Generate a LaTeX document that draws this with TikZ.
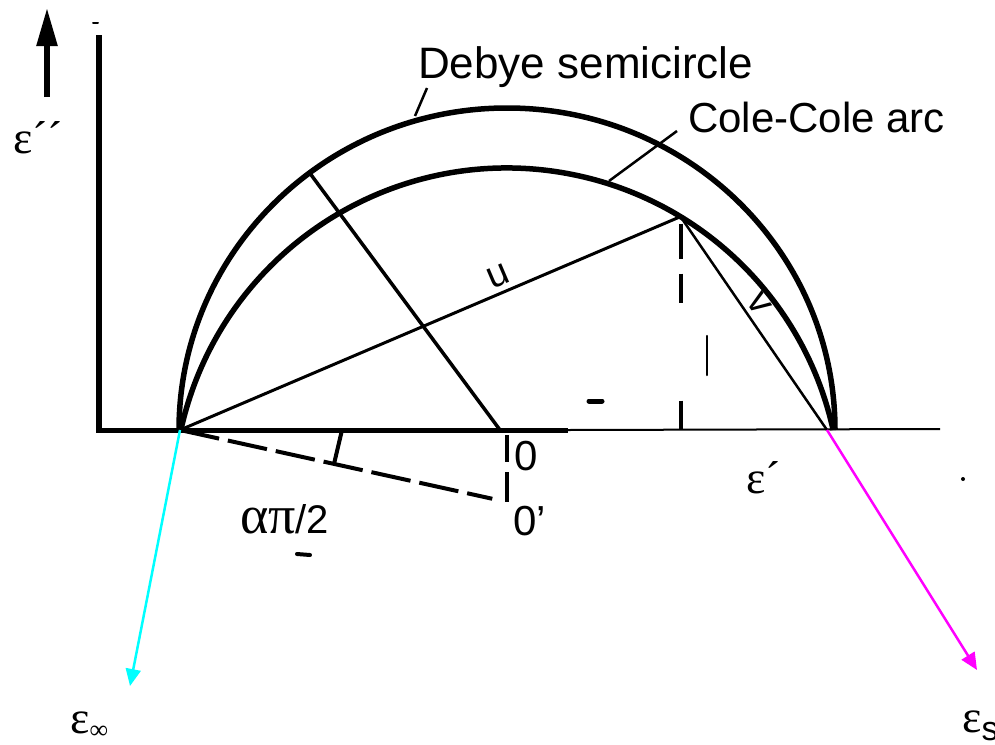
\documentclass[tikz,border=0pt]{standalone}
\usepackage{fontspec}
\setmainfont{Liberation Sans}
\newfontfamily\greekfont{Liberation Serif}
\usepackage{xcolor}
\definecolor{limcyan}{RGB}{0,255,255}
\definecolor{limmagenta}{RGB}{255,0,255}
\usetikzlibrary{arrows.meta, calc}

\begin{document}
\begin{tikzpicture}[
    x=1pt, y=-1pt,
    curve/.style={line width=5.5pt},
    axis/.style={line width=#1},
    axis/.default=5pt,
    guide/.style={line width=#1},
    guide/.default=2.5pt,
    dsh/.style={line width=4pt, dash pattern=#1},
    lbl/.style={font=\fontsize{42}{46}\selectfont, inner sep=0pt, anchor=base west},
    glbl/.style={font=\greekfont\fontsize{46}{50}\selectfont, inner sep=0pt, anchor=base west},
    pointer/.style={-{Triangle[length=17pt,width=15pt]}, line width=2.5pt, draw=#1, fill=#1},
    speck/.style={line width=#1, line cap=round},
]
\useasboundingbox (0,0) rectangle (995,744);

% Axes and the up arrow
\coordinate (ytop) at (99,35);
\coordinate (orig) at (99,430);
\coordinate (xmid) at (568,430);
\coordinate (xend) at (940,429);
\coordinate (arrowBase) at (47,97);
\coordinate (arrowTip) at (47,8);
\draw[axis=6pt] (ytop) -- (orig);
\draw[axis] ([xshift=-3pt]orig) -- (xmid);
\draw[axis=2pt] (xmid) -- (xend);
\draw[-{Triangle[length=38pt,width=20pt]}, line width=5.5pt] (arrowBase) -- (arrowTip);

% Key points
\coordinate (einf) at (180,430);
\coordinate (D) at (507,430);
\coordinate (Op) at (507,502);
\coordinate (O) at (500,430);
\coordinate (vend) at (827,430);
\coordinate (P) at ($(Op)+(301.3:334)$);
\coordinate (Q) at ($(D)+(233:328 and 322)$);

% Debye semicircle and Cole-Cole arc
\draw[curve] ($(D)+(180:328 and 322)$) arc[start angle=180, end angle=360, x radius=328, y radius=322];
\draw[curve] ($(Op)+(192.45:334)$) arc[start angle=192.45, end angle=347.55, radius=334];

% Chords u and v, radius from O
\draw[guide=3pt] (einf) -- node[sloped, above, pos=0.65, inner sep=5pt, font=\fontsize{38}{40}\selectfont] (ulbl) {u} (P);
\draw[guide] (P) -- node[sloped, above, pos=0.45, inner sep=4pt, font=\fontsize{38}{40}\selectfont] (vlbl) {v} (vend);
\draw[guide=3.5pt] (O) -- (Q);
\draw[dsh={on 0pt off 7pt on 35pt off 15pt on 29pt off 98pt on 40pt}] (P) -- (P |- O);

% Tilted centre line and angle marker
\coordinate (dashEnd) at ($(einf)!0.955!(Op)$);
\coordinate (tickTop) at (342,430);
\coordinate (tickBot) at ($(einf)!0.471!(Op)$);
\draw[dsh={on 40pt off 9pt}] (einf) -- (dashEnd);
\draw[guide=4pt] (tickTop) -- (tickBot);
\draw[dsh={on 0pt off 5pt on 27pt off 10pt on 28pt}] (D) -- (Op);

% Labels
\node[lbl, font=\fontsize{44}{48}\selectfont] (debyeLabel) at (418,78) {Debye semicircle};
\node[lbl] (coleLabel) at (688,132) {Cole-Cole arc};
\coordinate (debyeLead) at (427,88);
\coordinate (debyeTip) at (415,116);
\coordinate (coleLead) at (677,131);
\coordinate (coleTip) at (609,181);
\draw[guide] (debyeLead) -- (debyeTip);
\draw[guide] (coleLead) -- (coleTip);

\node[glbl] (epsY) at (13,153) {ε´´};
\node[glbl] (epsX) at (746,493) {ε´};
\node[glbl, font=\greekfont\fontsize{54}{58}\selectfont] (alphaLabel) at (240,533) {απ{\normalfont\fontsize{40}{44}\selectfont /2}};
\node[lbl] (zero) at (514,470) {0};
\node[lbl] (zeroP) at (513,535) {0'};

% Limits
\coordinate (infTip) at (130,686);
\coordinate (sTip) at (977,670);
\draw[pointer=limcyan] (einf) -- (infTip);
\draw[pointer=limmagenta] (vend) -- (sTip);
\node[glbl] (epsInf) at (70,733) {ε\raisebox{-5pt}{\fontsize{26}{28}\selectfont ∞}};
\node[glbl] (epsS) at (962,732) {ε\raisebox{-8pt}{\normalfont\fontsize{34}{36}\selectfont s}};

% Specks
\draw[speck=5pt] (589,401) -- (602,401);
\draw[speck=2.5pt] (707,336) -- (707,375);
\draw[speck=4pt] (297,554) -- (310,555);
\draw[speck=2pt] (93,23) -- (98,23);
\fill (963,479) circle (2pt);
\end{tikzpicture}
\end{document}
